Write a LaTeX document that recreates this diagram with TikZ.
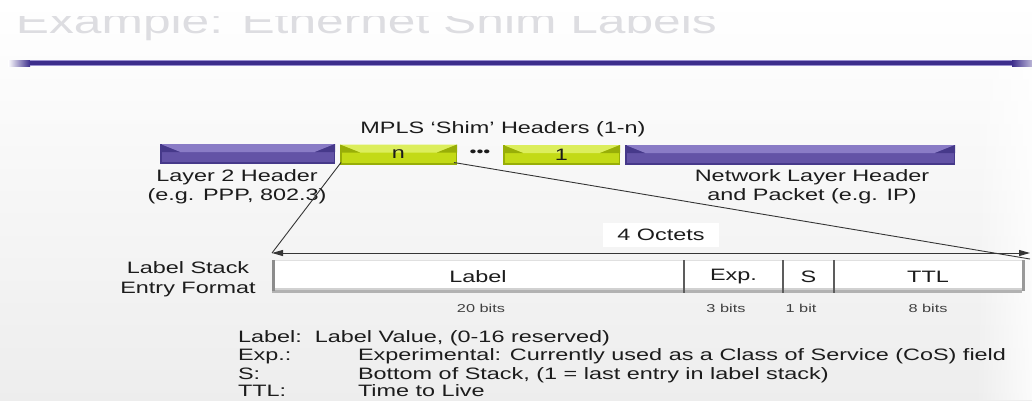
\documentclass[tikz,border=0pt]{standalone}
\usepackage{fontspec}
\setmainfont{Liberation Sans}[FakeStretch=1.42]
\usetikzlibrary{arrows.meta,fadings}

\definecolor{rulepurple}{HTML}{3D2E8C}
\definecolor{rulelight}{HTML}{9A90D0}
\definecolor{barpurple}{HTML}{6353A6}
\definecolor{barpurplehi}{HTML}{8A7CC6}
\definecolor{barpurplelo}{HTML}{46398A}
\definecolor{bargreen}{HTML}{C3DA16}
\definecolor{bargreenhi}{HTML}{DCEE5C}
\definecolor{bargreenlo}{HTML}{98AE08}
\definecolor{ink}{HTML}{1C1C1C}
\definecolor{lineink}{HTML}{353535}
\definecolor{titlegrey}{HTML}{DDDDE1}

\tikzfading[name=brighten right, left color=transparent!100, right color=transparent!20]

\begin{document}
\begin{tikzpicture}[x=1pt,y=-1pt,
  every node/.style={inner sep=0pt, outer sep=0pt, text=ink},
  mainfont/.style={font=\fontsize{16.5}{19}\selectfont},
  smallfont/.style={font=\fontsize{11.5}{13}\selectfont},
  bevelbar/.style n args={3}{mainfont, fill=#1, path picture={
    \fill[#2] (path picture bounding box.north west) -- (path picture bounding box.north east)
      -- ([xshift=-20pt,yshift=-8pt]path picture bounding box.north east)
      -- ([xshift=20pt,yshift=-8pt]path picture bounding box.north west) -- cycle;
    \fill[#3] (path picture bounding box.north west) -- ([xshift=20pt,yshift=-8pt]path picture bounding box.north west)
      -- ([yshift=-8pt]path picture bounding box.north west) -- cycle;
    \fill[#3] (path picture bounding box.north east) -- ([xshift=-20pt,yshift=-8pt]path picture bounding box.north east)
      -- ([yshift=-8pt]path picture bounding box.north east) -- cycle;
    \fill[#3] ([yshift=2pt]path picture bounding box.south west) rectangle (path picture bounding box.south east);
    \fill[#3] (path picture bounding box.north west) rectangle ([xshift=1.5pt]path picture bounding box.south west);
    \fill[#3] ([xshift=-1.5pt]path picture bounding box.north east) rectangle (path picture bounding box.south east);
  }},
  purplebar/.style={bevelbar={barpurple}{barpurplehi}{barpurplelo}},
  greenbar/.style={bevelbar={bargreen}{bargreenhi}{bargreenlo}},
  field/.style={mainfont, fill=white, minimum height=33pt},
  conn/.style={draw=lineink, line width=0.9pt},
  dim/.style={draw=lineink, line width=1pt, {Triangle[length=11pt,width=6pt]}-{Triangle[length=11pt,width=6pt]}},
  divider/.style={draw=lineink!80, line width=1.1pt},
  caption/.style={mainfont, align=center},
  legend/.style={mainfont, anchor=base west}
]
\useasboundingbox (0,0) rectangle (1032,400);

% page background
\shade[top color=white, bottom color=black!7] (0,0) rectangle (1032,400);
\fill[white, path fading=brighten right] (975,70) rectangle (1032,400);

% faded slide title
\begin{scope}
  \clip (0,16) rectangle (1032,50);
  \node[anchor=base west, text=titlegrey, font=\fontsize{35}{40}\selectfont] (title) at (16,33) {Example: Ethernet Shim Labels};
\end{scope}

% title rule
\shade[left color=white, right color=rulepurple] (8,60) rectangle (30,66);
\fill[rulepurple] (30,60) rectangle (1012,66);
\shade[left color=rulepurple, right color=rulepurple!35] (1012,60) rectangle (1032,66);
\draw[rulelight, line width=0.6pt] (30,60.3) -- (1012,60.3);
\draw[rulelight, line width=0.6pt] (30,65.7) -- (1012,65.7);

% packet bars
\node[purplebar, minimum width=175pt, minimum height=20pt] (l2) at (247.5,154) {};
\node[greenbar, minimum width=117pt, minimum height=20pt] (shimn) at (398.5,154.5) {n};
\node[mainfont, font=\fontsize{14}{16}\selectfont] (dots) at (480,153.5) {•••};
\node[greenbar, minimum width=117pt, minimum height=20pt] (shim1) at (561.5,155) {1};
\node[purplebar, minimum width=330pt, minimum height=20pt] (net) at (790,155) {};

% bar captions
\node[mainfont, anchor=base] (shimcap) at (503,133) {MPLS ‘Shim’ Headers (1-n)};
\node[caption] (l2cap) at (237,186.5) {Layer 2 Header\\(e.g. PPP, 802.3)};
\node[caption] (netcap) at (812,186.5) {Network Layer Header\\and Packet (e.g. IP)};

% label stack entry fields
\node[field, minimum width=412pt] (flabel) at (478,276.5) {Label};
\node[field, minimum width=99pt] (fexp) at (733.5,276.5) {Exp.};
\node[field, minimum width=51pt] (fs) at (808.5,276.5) {S};
\node[field, minimum width=188pt] (fttl) at (928,276.5) {TTL};

% frame shading of the entry box
\draw[black!12, line width=0.6pt] (flabel.north west) -- (fttl.north east);
\draw[black!30, line width=3pt] ([yshift=1.5pt]flabel.south west) -- ([yshift=1.5pt]fttl.south east);
\draw[black!18, line width=2pt] ([yshift=4pt]flabel.south west) -- ([yshift=4pt]fttl.south east);
\draw[black!45, line width=3pt] ([xshift=1.5pt]flabel.north west) -- ([xshift=1.5pt,yshift=2pt]flabel.south west);
\draw[black!40, line width=3pt] ([xshift=1.5pt]fttl.north east) -- ([xshift=1.5pt,yshift=2pt]fttl.south east);
\draw[divider] (flabel.north east) -- (flabel.south east);
\draw[divider] (fexp.north east) -- (fexp.south east);
\draw[divider] (fs.north east) -- (fs.south east);

\node[caption, font=\fontsize{16.5}{20}\selectfont] (entrycap) at (188,279) {Label Stack\\Entry Format};

% bit widths
\node[smallfont, anchor=base, text=black!75] (b20) at (481,312) {20 bits};
\node[smallfont, anchor=base, text=black!75] (b3) at (726,312) {3 bits};
\node[smallfont, anchor=base, text=black!75] (b1) at (801,312) {1 bit};
\node[smallfont, anchor=base, text=black!75] (b8) at (928,312) {8 bits};

% 4 octets dimension with the zoom-out lines
\coordinate (octL) at (272,253);
\coordinate (octR) at (1030,253);
\node[mainfont, fill=white, minimum width=116pt, minimum height=24pt] (octets) at (661,235) {4 Octets};
\draw[dim] (octL) -- (octR);
\draw[conn] ([xshift=1pt,yshift=2pt]shimn.south west) -- (octL);
\draw[conn] ([xshift=-3pt,yshift=2pt]shimn.south east) -- ([yshift=-6pt]octR);

% field legend
\node[legend] (lg1) at (238,342) {Label:\ \ Label Value, (0-16 reserved)};
\node[legend] (lg2a) at (238,360.5) {Exp.:};
\node[legend] (lg2b) at (358,360.5) {Experimental: Currently used as a Class of Service (CoS) field};
\node[legend] (lg3a) at (238,379) {S:};
\node[legend] (lg3b) at (358,379) {Bottom of Stack, (1 = last entry in label stack)};
\node[legend] (lg4a) at (238,396.5) {TTL:};
\node[legend] (lg4b) at (358,396.5) {Time to Live};
\end{tikzpicture}
\end{document}
